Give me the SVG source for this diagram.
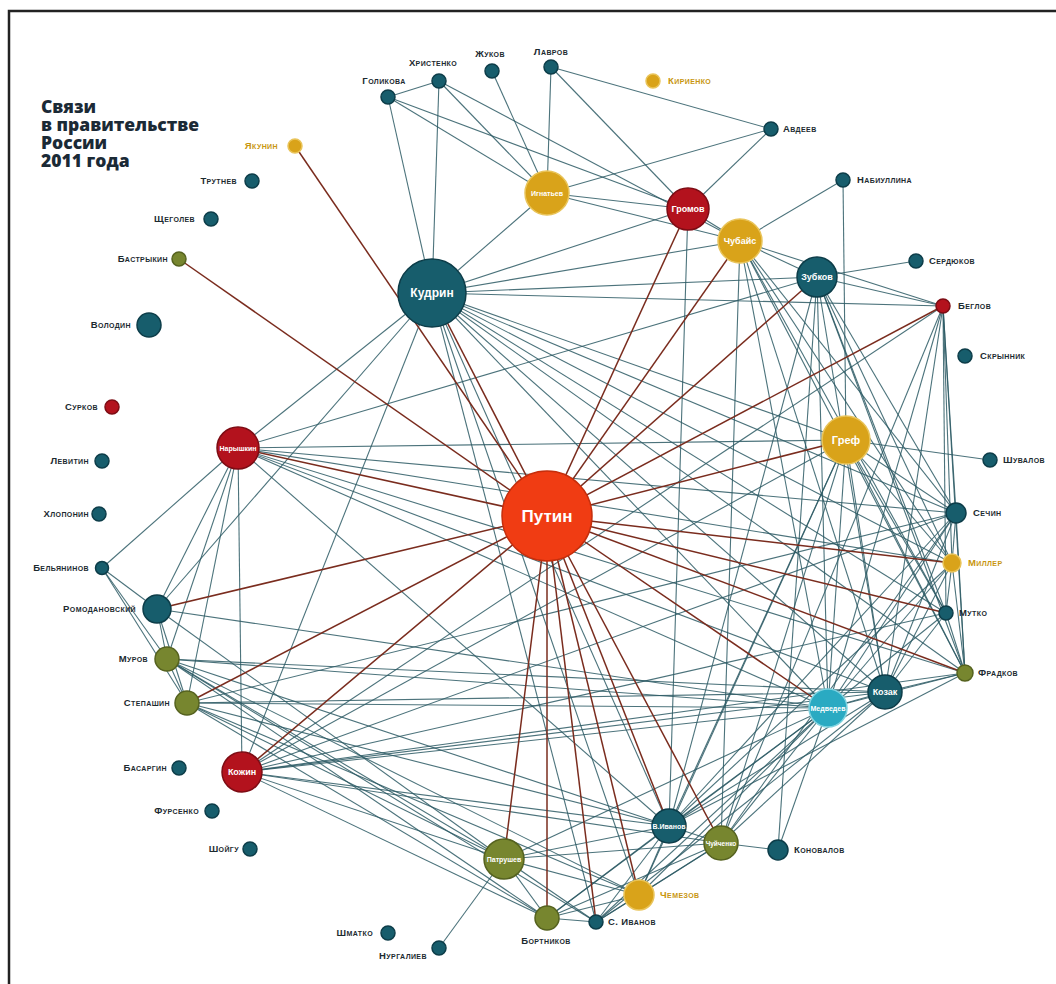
<svg xmlns="http://www.w3.org/2000/svg" width="1056" height="984" viewBox="0 0 1056 984">
<style>
.t{stroke:#2d5b65;stroke-width:1.1;opacity:.85}
.b{stroke:#7a2c1e;stroke-width:1.5}
.teal{fill:#175d6c;stroke:#0d3d49;stroke-width:1.5}
.red{fill:#b3121d;stroke:#7d0c14;stroke-width:1.5}
.gold{fill:#d9a31a;stroke:#e9c45a;stroke-width:1.5}
.olive{fill:#77862f;stroke:#55621f;stroke-width:1.5}
.putin{fill:#f03c13;stroke:#c52e0c;stroke-width:1.5}
.med{fill:#2aaac2;stroke:#7fd3e0;stroke-width:1.5}
.lb{font-family:"Liberation Sans","DejaVu Sans",sans-serif;font-weight:bold;font-size:9.5px;font-variant:small-caps;letter-spacing:.4px;fill:#1c2a30}
.lg{fill:#c8960f}
.e{text-anchor:end}
.m{text-anchor:middle}
.in{font-family:"Liberation Sans","DejaVu Sans",sans-serif;font-weight:bold;fill:#fff;text-anchor:middle}
.title{font-family:"Open Sans","Liberation Sans",sans-serif;font-weight:800;font-size:17.5px;fill:#1b2a36}
</style>
<rect width="1056" height="984" fill="#fff"/>
<path d="M9 984V11H1056" fill="none" stroke="#222" stroke-width="2.5"/>
<g id="title">
<text class="title" x="41" y="113">Связи<tspan x="41" dy="18">в правительстве</tspan><tspan x="41" dy="18">России</tspan><tspan x="41" dy="18">2011 года</tspan></text>
</g>
<g id="connectors">
<line class="t" x1="388" y1="97" x2="439" y2="81"/>
<line class="t" x1="388" y1="97" x2="432" y2="293"/>
<line class="t" x1="388" y1="97" x2="547" y2="193"/>
<line class="t" x1="388" y1="97" x2="688" y2="209"/>
<line class="t" x1="439" y1="81" x2="432" y2="293"/>
<line class="t" x1="439" y1="81" x2="547" y2="193"/>
<line class="t" x1="439" y1="81" x2="740" y2="241"/>
<line class="t" x1="492" y1="71" x2="547" y2="193"/>
<line class="t" x1="551" y1="67" x2="547" y2="193"/>
<line class="t" x1="551" y1="67" x2="688" y2="209"/>
<line class="t" x1="551" y1="67" x2="771" y2="129"/>
<line class="t" x1="547" y1="193" x2="771" y2="129"/>
<line class="t" x1="547" y1="193" x2="688" y2="209"/>
<line class="t" x1="547" y1="193" x2="740" y2="241"/>
<line class="t" x1="547" y1="193" x2="432" y2="293"/>
<line class="t" x1="688" y1="209" x2="771" y2="129"/>
<line class="t" x1="688" y1="209" x2="740" y2="241"/>
<line class="t" x1="688" y1="209" x2="432" y2="293"/>
<line class="t" x1="688" y1="209" x2="669" y2="826"/>
<line class="t" x1="740" y1="241" x2="843" y2="180"/>
<line class="t" x1="740" y1="241" x2="817" y2="277"/>
<line class="t" x1="740" y1="241" x2="943" y2="306"/>
<line class="t" x1="740" y1="241" x2="432" y2="293"/>
<line class="t" x1="740" y1="241" x2="956" y2="513"/>
<line class="t" x1="740" y1="241" x2="952" y2="563"/>
<line class="t" x1="740" y1="241" x2="946" y2="613"/>
<line class="t" x1="740" y1="241" x2="965" y2="673"/>
<line class="t" x1="740" y1="241" x2="885" y2="692"/>
<line class="t" x1="740" y1="241" x2="828" y2="708"/>
<line class="t" x1="740" y1="241" x2="721" y2="843"/>
<line class="t" x1="817" y1="277" x2="916" y2="261"/>
<line class="t" x1="817" y1="277" x2="943" y2="306"/>
<line class="t" x1="817" y1="277" x2="432" y2="293"/>
<line class="t" x1="817" y1="277" x2="238" y2="448"/>
<line class="t" x1="817" y1="277" x2="956" y2="513"/>
<line class="t" x1="817" y1="277" x2="952" y2="563"/>
<line class="t" x1="817" y1="277" x2="946" y2="613"/>
<line class="t" x1="817" y1="277" x2="965" y2="673"/>
<line class="t" x1="817" y1="277" x2="885" y2="692"/>
<line class="t" x1="817" y1="277" x2="828" y2="708"/>
<line class="t" x1="817" y1="277" x2="669" y2="826"/>
<line class="t" x1="817" y1="277" x2="778" y2="850"/>
<line class="t" x1="943" y1="306" x2="956" y2="513"/>
<line class="t" x1="943" y1="306" x2="952" y2="563"/>
<line class="t" x1="943" y1="306" x2="946" y2="613"/>
<line class="t" x1="943" y1="306" x2="965" y2="673"/>
<line class="t" x1="943" y1="306" x2="885" y2="692"/>
<line class="t" x1="943" y1="306" x2="828" y2="708"/>
<line class="t" x1="943" y1="306" x2="432" y2="293"/>
<line class="t" x1="943" y1="306" x2="721" y2="843"/>
<line class="t" x1="943" y1="306" x2="242" y2="772"/>
<line class="t" x1="843" y1="180" x2="846" y2="440"/>
<line class="t" x1="846" y1="440" x2="990" y2="460"/>
<line class="t" x1="846" y1="440" x2="432" y2="293"/>
<line class="t" x1="846" y1="440" x2="238" y2="448"/>
<line class="t" x1="846" y1="440" x2="956" y2="513"/>
<line class="t" x1="846" y1="440" x2="952" y2="563"/>
<line class="t" x1="846" y1="440" x2="946" y2="613"/>
<line class="t" x1="846" y1="440" x2="965" y2="673"/>
<line class="t" x1="846" y1="440" x2="885" y2="692"/>
<line class="t" x1="846" y1="440" x2="828" y2="708"/>
<line class="t" x1="846" y1="440" x2="669" y2="826"/>
<line class="t" x1="846" y1="440" x2="721" y2="843"/>
<line class="t" x1="846" y1="440" x2="639" y2="895"/>
<line class="t" x1="846" y1="440" x2="242" y2="772"/>
<line class="t" x1="956" y1="513" x2="432" y2="293"/>
<line class="t" x1="956" y1="513" x2="238" y2="448"/>
<line class="t" x1="956" y1="513" x2="242" y2="772"/>
<line class="t" x1="956" y1="513" x2="828" y2="708"/>
<line class="t" x1="956" y1="513" x2="885" y2="692"/>
<line class="t" x1="956" y1="513" x2="965" y2="673"/>
<line class="t" x1="956" y1="513" x2="952" y2="563"/>
<line class="t" x1="956" y1="513" x2="669" y2="826"/>
<line class="t" x1="956" y1="513" x2="721" y2="843"/>
<line class="t" x1="956" y1="513" x2="187" y2="703"/>
<line class="t" x1="952" y1="563" x2="946" y2="613"/>
<line class="t" x1="952" y1="563" x2="965" y2="673"/>
<line class="t" x1="952" y1="563" x2="885" y2="692"/>
<line class="t" x1="952" y1="563" x2="828" y2="708"/>
<line class="t" x1="952" y1="563" x2="432" y2="293"/>
<line class="t" x1="952" y1="563" x2="238" y2="448"/>
<line class="t" x1="952" y1="563" x2="669" y2="826"/>
<line class="t" x1="946" y1="613" x2="965" y2="673"/>
<line class="t" x1="946" y1="613" x2="885" y2="692"/>
<line class="t" x1="946" y1="613" x2="828" y2="708"/>
<line class="t" x1="946" y1="613" x2="432" y2="293"/>
<line class="t" x1="946" y1="613" x2="242" y2="772"/>
<line class="t" x1="965" y1="673" x2="885" y2="692"/>
<line class="t" x1="965" y1="673" x2="828" y2="708"/>
<line class="t" x1="965" y1="673" x2="669" y2="826"/>
<line class="t" x1="965" y1="673" x2="432" y2="293"/>
<line class="t" x1="965" y1="673" x2="238" y2="448"/>
<line class="t" x1="885" y1="692" x2="828" y2="708"/>
<line class="t" x1="885" y1="692" x2="432" y2="293"/>
<line class="t" x1="885" y1="692" x2="238" y2="448"/>
<line class="t" x1="885" y1="692" x2="242" y2="772"/>
<line class="t" x1="885" y1="692" x2="187" y2="703"/>
<line class="t" x1="885" y1="692" x2="167" y2="659"/>
<line class="t" x1="885" y1="692" x2="669" y2="826"/>
<line class="t" x1="885" y1="692" x2="721" y2="843"/>
<line class="t" x1="885" y1="692" x2="596" y2="922"/>
<line class="t" x1="828" y1="708" x2="432" y2="293"/>
<line class="t" x1="828" y1="708" x2="238" y2="448"/>
<line class="t" x1="828" y1="708" x2="242" y2="772"/>
<line class="t" x1="828" y1="708" x2="187" y2="703"/>
<line class="t" x1="828" y1="708" x2="167" y2="659"/>
<line class="t" x1="828" y1="708" x2="669" y2="826"/>
<line class="t" x1="828" y1="708" x2="721" y2="843"/>
<line class="t" x1="828" y1="708" x2="778" y2="850"/>
<line class="t" x1="828" y1="708" x2="504" y2="859"/>
<line class="t" x1="828" y1="708" x2="547" y2="918"/>
<line class="t" x1="828" y1="708" x2="596" y2="922"/>
<line class="t" x1="828" y1="708" x2="639" y2="895"/>
<line class="t" x1="828" y1="708" x2="157" y2="609"/>
<line class="t" x1="432" y1="293" x2="238" y2="448"/>
<line class="t" x1="432" y1="293" x2="242" y2="772"/>
<line class="t" x1="432" y1="293" x2="157" y2="609"/>
<line class="t" x1="432" y1="293" x2="669" y2="826"/>
<line class="t" x1="432" y1="293" x2="596" y2="922"/>
<line class="t" x1="432" y1="293" x2="639" y2="895"/>
<line class="t" x1="238" y1="448" x2="102" y2="568"/>
<line class="t" x1="238" y1="448" x2="157" y2="609"/>
<line class="t" x1="238" y1="448" x2="167" y2="659"/>
<line class="t" x1="238" y1="448" x2="187" y2="703"/>
<line class="t" x1="238" y1="448" x2="242" y2="772"/>
<line class="t" x1="238" y1="448" x2="669" y2="826"/>
<line class="t" x1="102" y1="568" x2="157" y2="609"/>
<line class="t" x1="102" y1="568" x2="167" y2="659"/>
<line class="t" x1="102" y1="568" x2="187" y2="703"/>
<line class="t" x1="157" y1="609" x2="167" y2="659"/>
<line class="t" x1="157" y1="609" x2="187" y2="703"/>
<line class="t" x1="157" y1="609" x2="504" y2="859"/>
<line class="t" x1="167" y1="659" x2="187" y2="703"/>
<line class="t" x1="167" y1="659" x2="504" y2="859"/>
<line class="t" x1="167" y1="659" x2="547" y2="918"/>
<line class="t" x1="167" y1="659" x2="596" y2="922"/>
<line class="t" x1="167" y1="659" x2="669" y2="826"/>
<line class="t" x1="167" y1="659" x2="639" y2="895"/>
<line class="t" x1="187" y1="703" x2="504" y2="859"/>
<line class="t" x1="187" y1="703" x2="547" y2="918"/>
<line class="t" x1="187" y1="703" x2="639" y2="895"/>
<line class="t" x1="187" y1="703" x2="669" y2="826"/>
<line class="t" x1="242" y1="772" x2="504" y2="859"/>
<line class="t" x1="242" y1="772" x2="547" y2="918"/>
<line class="t" x1="242" y1="772" x2="669" y2="826"/>
<line class="t" x1="242" y1="772" x2="721" y2="843"/>
<line class="t" x1="242" y1="772" x2="965" y2="673"/>
<line class="t" x1="504" y1="859" x2="439" y2="948"/>
<line class="t" x1="504" y1="859" x2="547" y2="918"/>
<line class="t" x1="504" y1="859" x2="596" y2="922"/>
<line class="t" x1="504" y1="859" x2="639" y2="895"/>
<line class="t" x1="504" y1="859" x2="669" y2="826"/>
<line class="t" x1="504" y1="859" x2="721" y2="843"/>
<line class="t" x1="547" y1="918" x2="596" y2="922"/>
<line class="t" x1="547" y1="918" x2="639" y2="895"/>
<line class="t" x1="547" y1="918" x2="669" y2="826"/>
<line class="t" x1="547" y1="918" x2="721" y2="843"/>
<line class="t" x1="596" y1="922" x2="639" y2="895"/>
<line class="t" x1="596" y1="922" x2="669" y2="826"/>
<line class="t" x1="596" y1="922" x2="721" y2="843"/>
<line class="t" x1="639" y1="895" x2="669" y2="826"/>
<line class="t" x1="639" y1="895" x2="721" y2="843"/>
<line class="t" x1="669" y1="826" x2="721" y2="843"/>
<line class="t" x1="721" y1="843" x2="778" y2="850"/>
<line class="b" x1="547" y1="516" x2="295" y2="146"/>
<line class="b" x1="547" y1="516" x2="179" y2="259"/>
<line class="b" x1="547" y1="516" x2="432" y2="293"/>
<line class="b" x1="547" y1="516" x2="688" y2="209"/>
<line class="b" x1="547" y1="516" x2="740" y2="241"/>
<line class="b" x1="547" y1="516" x2="817" y2="277"/>
<line class="b" x1="547" y1="516" x2="943" y2="306"/>
<line class="b" x1="547" y1="516" x2="846" y2="440"/>
<line class="b" x1="547" y1="516" x2="238" y2="448"/>
<line class="b" x1="547" y1="516" x2="157" y2="609"/>
<line class="b" x1="547" y1="516" x2="187" y2="703"/>
<line class="b" x1="547" y1="516" x2="242" y2="772"/>
<line class="b" x1="547" y1="516" x2="504" y2="859"/>
<line class="b" x1="547" y1="516" x2="547" y2="918"/>
<line class="b" x1="547" y1="516" x2="596" y2="922"/>
<line class="b" x1="547" y1="516" x2="639" y2="895"/>
<line class="b" x1="547" y1="516" x2="669" y2="826"/>
<line class="b" x1="547" y1="516" x2="721" y2="843"/>
<line class="b" x1="547" y1="516" x2="828" y2="708"/>
<line class="b" x1="547" y1="516" x2="965" y2="673"/>
<line class="b" x1="547" y1="516" x2="952" y2="563"/>
<line class="b" x1="547" y1="516" x2="946" y2="613"/>
</g>
<g id="n-putin"><circle class="putin" cx="547" cy="516" r="45"/><text class="in" x="547" y="522" font-size="17">Путин</text></g>
<g id="n-kudrin"><circle class="teal" cx="432" cy="293" r="34"/><text class="in" x="432" y="297" font-size="12">Кудрин</text></g>
<g id="n-naryshkin"><circle class="red" cx="238" cy="448" r="21"/><text class="in" x="238" y="451" font-size="7">Нарышкин</text></g>
<g id="n-kozhin"><circle class="red" cx="242" cy="772" r="20"/><text class="in" x="242" y="775" font-size="9">Кожин</text></g>
<g id="n-gromov"><circle class="red" cx="688" cy="209" r="21"/><text class="in" x="688" y="212" font-size="9">Громов</text></g>
<g id="n-chubais"><circle class="gold" cx="740" cy="241" r="22"/><text class="in" x="740" y="244" font-size="9">Чубайс</text></g>
<g id="n-zubkov"><circle class="teal" cx="817" cy="277" r="20"/><text class="in" x="817" y="280" font-size="9">Зубков</text></g>
<g id="n-gref"><circle class="gold" cx="846" cy="440" r="24"/><text class="in" x="846" y="444" font-size="11">Греф</text></g>
<g id="n-medvedev"><circle class="med" cx="828" cy="708" r="19"/><text class="in" x="828" y="711" font-size="7">Медведев</text></g>
<g id="n-kozak"><circle class="teal" cx="885" cy="692" r="17"/><text class="in" x="885" y="695" font-size="9">Козак</text></g>
<g id="n-vivanov"><circle class="teal" cx="669" cy="826" r="17"/><text class="in" x="669" y="829" font-size="7">В.Иванов</text></g>
<g id="n-chuichenko"><circle class="olive" cx="721" cy="843" r="17"/><text class="in" x="721" y="846" font-size="6.5">Чуйченко</text></g>
<g id="n-patrushev"><circle class="olive" cx="504" cy="859" r="20"/><text class="in" x="504" y="862" font-size="7">Патрушев</text></g>
<g id="n-ignatiev"><circle class="gold" cx="547" cy="193" r="22"/><text class="in" x="547" y="196" font-size="7">Игнатьев</text></g>
<g id="n-bortnikov"><circle class="olive" cx="547" cy="918" r="12"/><text class="lb m" x="546" y="944">Бортников</text></g>
<g id="n-sivanov"><circle class="teal" cx="596" cy="922" r="7"/><text class="lb" x="608" y="925">С. Иванов</text></g>
<g id="n-chemezov"><circle class="gold" cx="639" cy="895" r="15"/><text class="lb lg" x="660" y="898">Чемезов</text></g>
<g id="n-konovalov"><circle class="teal" cx="778" cy="850" r="10"/><text class="lb" x="794" y="853">Коновалов</text></g>
<g id="n-romodanovsky"><circle class="teal" cx="157" cy="609" r="14"/><text class="lb e" x="136" y="612">Ромодановский</text></g>
<g id="n-murov"><circle class="olive" cx="167" cy="659" r="12"/><text class="lb e" x="148" y="662">Муров</text></g>
<g id="n-stepashin"><circle class="olive" cx="187" cy="703" r="12"/><text class="lb e" x="170" y="706">Степашин</text></g>
<g id="n-volodin"><circle class="teal" cx="149" cy="325" r="12"/><text class="lb e" x="131" y="328">Володин</text></g>
<g id="n-yakunin"><circle class="gold" cx="295" cy="146" r="7"/><text class="lb e lg" x="278" y="149">Якунин</text></g>
<g id="n-trutnev"><circle class="teal" cx="252" cy="181" r="7"/><text class="lb e" x="237" y="184">Трутнев</text></g>
<g id="n-shchegolev"><circle class="teal" cx="211" cy="219" r="7"/><text class="lb e" x="195" y="222">Щеголев</text></g>
<g id="n-bastrykin"><circle class="olive" cx="179" cy="259" r="7"/><text class="lb e" x="168" y="262">Бастрыкин</text></g>
<g id="n-surkov"><circle class="red" cx="112" cy="407" r="7"/><text class="lb e" x="98" y="410">Сурков</text></g>
<g id="n-levitin"><circle class="teal" cx="102" cy="461" r="7"/><text class="lb e" x="89" y="464">Левитин</text></g>
<g id="n-khloponin"><circle class="teal" cx="99" cy="514" r="7"/><text class="lb e" x="89" y="517">Хлопонин</text></g>
<g id="n-belyaninov"><circle class="teal" cx="102" cy="568" r="6.5"/><text class="lb e" x="89" y="571">Бельянинов</text></g>
<g id="n-basargin"><circle class="teal" cx="179" cy="768" r="7"/><text class="lb e" x="167" y="771">Басаргин</text></g>
<g id="n-fursenko"><circle class="teal" cx="212" cy="811" r="7"/><text class="lb e" x="199" y="814">Фурсенко</text></g>
<g id="n-shoigu"><circle class="teal" cx="250" cy="849" r="7"/><text class="lb e" x="239" y="852">Шойгу</text></g>
<g id="n-shmatko"><circle class="teal" cx="388" cy="933" r="7"/><text class="lb e" x="373" y="936">Шматко</text></g>
<g id="n-nurgaliev"><circle class="teal" cx="439" cy="948" r="7"/><text class="lb m" x="403" y="959">Нургалиев</text></g>
<g id="n-golikova"><circle class="teal" cx="388" cy="97" r="7"/><text class="lb m" x="384" y="84">Голикова</text></g>
<g id="n-khristenko"><circle class="teal" cx="439" cy="81" r="7"/><text class="lb m" x="433" y="66">Христенко</text></g>
<g id="n-zhukov"><circle class="teal" cx="492" cy="71" r="7"/><text class="lb m" x="490" y="57">Жуков</text></g>
<g id="n-lavrov"><circle class="teal" cx="551" cy="67" r="7"/><text class="lb m" x="551" y="55">Лавров</text></g>
<g id="n-kirienko"><circle class="gold" cx="653" cy="81" r="7"/><text class="lb lg" x="668" y="84">Кириенко</text></g>
<g id="n-avdeev"><circle class="teal" cx="771" cy="129" r="7"/><text class="lb" x="783" y="132">Авдеев</text></g>
<g id="n-nabiullina"><circle class="teal" cx="843" cy="180" r="7"/><text class="lb" x="857" y="183">Набиуллина</text></g>
<g id="n-serdyukov"><circle class="teal" cx="916" cy="261" r="7"/><text class="lb" x="929" y="264">Сердюков</text></g>
<g id="n-beglov"><circle class="red" cx="943" cy="306" r="7"/><text class="lb" x="958" y="309">Беглов</text></g>
<g id="n-skrynnik"><circle class="teal" cx="965" cy="356" r="7"/><text class="lb" x="980" y="359">Скрынник</text></g>
<g id="n-shuvalov"><circle class="teal" cx="990" cy="460" r="7"/><text class="lb" x="1003" y="463">Шувалов</text></g>
<g id="n-sechin"><circle class="teal" cx="956" cy="513" r="10"/><text class="lb" x="973" y="516">Сечин</text></g>
<g id="n-miller"><circle class="gold" cx="952" cy="563" r="9"/><text class="lb lg" x="968" y="566">Миллер</text></g>
<g id="n-mutko"><circle class="teal" cx="946" cy="613" r="7"/><text class="lb" x="959" y="616">Мутко</text></g>
<g id="n-fradkov"><circle class="olive" cx="965" cy="673" r="8"/><text class="lb" x="978" y="676">Фрадков</text></g>
</svg>
